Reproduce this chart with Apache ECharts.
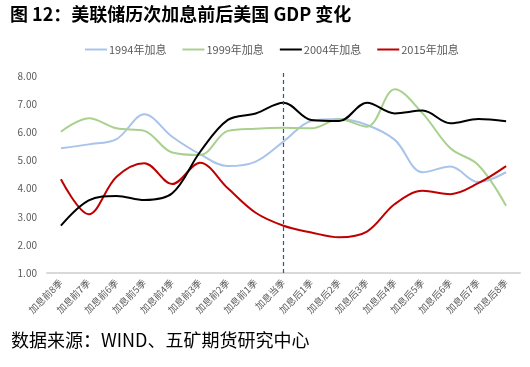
<!DOCTYPE html>
<html>
<head>
<meta charset="utf-8">
<script src="https://cdn.jsdelivr.net/npm/echarts@6/dist/echarts.min.js"></script>
<style>
html,body{margin:0;padding:0;background:#fff;}
#c{width:530px;height:367px;}
</style>
</head>
<body>
<div id="c"></div>
<script>
const categories = ['加息前8季','加息前7季','加息前6季','加息前5季','加息前4季','加息前3季','加息前2季','加息前1季','加息当季','加息后1季','加息后2季','加息后3季','加息后4季','加息后5季','加息后6季','加息后7季','加息后8季'];
const s1994 = [5.43,5.57,5.76,6.64,5.84,5.22,4.80,4.96,5.67,6.40,6.47,6.26,5.73,4.58,4.78,4.23,4.58];
const s1999 = [6.02,6.50,6.14,6.05,5.28,5.19,6.05,6.13,6.16,6.14,6.46,6.20,7.53,6.67,5.43,4.84,3.39];
const s2004 = [2.68,3.58,3.74,3.59,3.83,5.30,6.44,6.67,7.05,6.44,6.40,7.05,6.67,6.77,6.32,6.47,6.39];
const s2015 = [4.33,3.09,4.42,4.90,4.16,4.92,4.01,3.14,2.68,2.44,2.27,2.47,3.45,3.92,3.80,4.19,4.80];
const seriesNames = ['1994年加息','1999年加息','2004年加息','2015年加息'];
const yTicks = [1,2,3,4,5,6,7,8];

const colors = ['#A9C4EB','#A9D18E','#000000','#C00000'];
const dataSets = [s1994,s1999,s2004,s2015];
const font = '"Noto Sans CJK SC", "Noto Sans", sans-serif';

const chart = echarts.init(document.getElementById('c'), null, {renderer:'canvas'});
const series = dataSets.map((d,i)=>({
  name: seriesNames[i],
  type: 'line',
  data: d,
  smooth: 0.35,
  symbol: 'none',
  lineStyle: {color: colors[i], width: 2},
  itemStyle: {color: colors[i]},
  z: i===2 ? 4 : 3
}));
series[0].markLine = {
  silent: true,
  symbol: 'none',
  label: {show:false},
  lineStyle: {color:'#2F5597', type:[4,3], width:1.2},
  data: [[{xAxis: '加息当季', y: 73}, {xAxis: '加息当季', y: 273}]]
};

chart.setOption({
  animation: false,
  backgroundColor: '#fff',
  textStyle: {fontFamily: font},
  graphic: [
    {type:'text', left:10, top:5, style:{text:'图 12：美联储历次加息前后美国 GDP 变化', font:'bold 18px "Noto Sans CJK SC", sans-serif', fill:'#000'}},
    {type:'text', left:11, top:331, style:{text:'数据来源：WIND、五矿期货研究中心', font:'18px "Noto Sans CJK SC", sans-serif', fill:'#000'}}
  ],
  legend: {
    left: 80, top: 39,
    itemWidth: 22, itemHeight: 2, itemGap: 16,
    icon: 'rect',
    textStyle: {fontSize: 11, color:'#595959', fontFamily: font, padding:[0,0,0,-3]},
    data: seriesNames
  },
  grid: {left:47, right:10, top:76, bottom:94, containLabel:false},
  xAxis: {
    type:'category', data: categories, boundaryGap: true,
    axisLine: {lineStyle:{color:'#D9D9D9', width:2}},
    axisTick: {show:false},
    axisLabel: {rotate:45, interval:0, fontSize:9.5, color:'#595959', margin:8, fontFamily: font}
  },
  yAxis: {
    type:'value', min: yTicks[0], max: yTicks[yTicks.length-1], interval:1,
    axisLine:{show:false}, axisTick:{show:false},
    splitLine:{show:false},
    axisLabel:{fontSize:10, color:'#595959', margin:10, formatter: v=>v.toFixed(2), fontFamily: font}
  },
  series: series
});
</script>
</body>
</html>
